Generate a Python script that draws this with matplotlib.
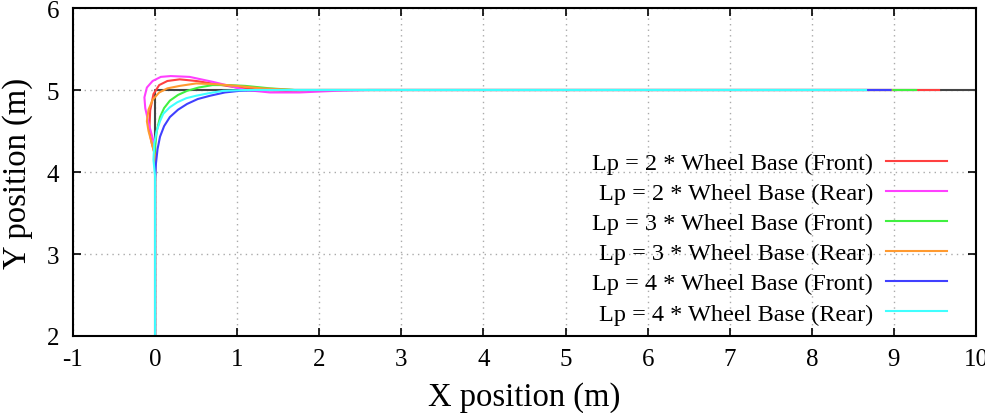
import matplotlib
matplotlib.use('Agg')
from matplotlib import pyplot as plt

# reference path (black)
ref_x = [0, 0, 10]
ref_y = [2, 5, 5]

# Lp = 2 * Wheel Base
front2_x = [0, 0, -0.04, -0.07, -0.06, -0.02, 0.05, 0.15, 0.3, 0.5, 0.75, 1.0, 1.3, 1.6, 2.0, 9.55]
front2_y = [2, 4.2, 4.35, 4.5, 4.75, 4.95, 5.06, 5.11, 5.13, 5.11, 5.07, 5.03, 5.0, 4.99, 5.0, 5.0]
rear2_x = [0, 0, -0.04, -0.08, -0.12, -0.13, -0.1, -0.03, 0.07, 0.19, 0.42, 0.7, 0.91, 1.1, 1.4, 1.76, 2.2, 2.6, 9.25]
rear2_y = [2, 4.3, 4.45, 4.6, 4.78, 4.91, 5.03, 5.11, 5.16, 5.17, 5.16, 5.1, 5.05, 5.0, 4.97, 4.97, 4.99, 5.0, 5.0]

# Lp = 3 * Wheel Base
front3_x = [0, 0, 0.02, 0.06, 0.11, 0.18, 0.28, 0.39, 0.53, 0.7, 0.9, 1.1, 1.4, 1.7, 9.27]
front3_y = [2, 4.3, 4.5, 4.67, 4.78, 4.87, 4.94, 4.99, 5.03, 5.06, 5.06, 5.05, 5.02, 5.0, 5.0]
rear3_x = [0, 0, -0.04, -0.08, -0.1, -0.08, -0.03, 0.05, 0.15, 0.3, 0.5, 0.75, 1.0, 1.3, 1.7, 8.97]
rear3_y = [2, 4.2, 4.35, 4.5, 4.62, 4.76, 4.88, 4.97, 5.02, 5.05, 5.08, 5.07, 5.05, 5.02, 5.0, 5.0]

# Lp = 4 * Wheel Base
front4_x = [0, 0, 0.01, 0.03, 0.06, 0.11, 0.18, 0.28, 0.39, 0.52, 0.67, 0.85, 1.03, 1.3, 8.96]
front4_y = [2, 3.9, 4.1, 4.28, 4.43, 4.56, 4.67, 4.76, 4.83, 4.89, 4.93, 4.97, 4.99, 5.0, 5.0]
rear4_x = [0, 0, -0.02, -0.01, 0.02, 0.06, 0.1, 0.18, 0.27, 0.38, 0.5, 0.65, 0.83, 1.1, 8.66]
rear4_y = [2, 3.95, 4.15, 4.35, 4.5, 4.62, 4.71, 4.79, 4.85, 4.9, 4.93, 4.96, 4.99, 5.0, 5.0]

labels = ['Lp = 2 * Wheel Base (Front)', 'Lp = 2 * Wheel Base (Rear)',
          'Lp = 3 * Wheel Base (Front)', 'Lp = 3 * Wheel Base (Rear)',
          'Lp = 4 * Wheel Base (Front)', 'Lp = 4 * Wheel Base (Rear)']
colors = ['#ff4040', '#ff40ff', '#40f040', '#ff9a30', '#4040ff', '#40ffff']

plt.rcParams['font.family'] = ['Liberation Serif', 'DejaVu Serif']
plt.rcParams['axes.unicode_minus'] = False

fig = plt.figure(figsize=(9.85, 4.14), dpi=100)
ax = fig.add_axes([73 / 985, 77 / 414, 903 / 985, 328 / 414])

ax.plot(ref_x, ref_y, color='#444444', lw=1.5)
series = [(front2_x, front2_y), (rear2_x, rear2_y), (front3_x, front3_y),
          (rear3_x, rear3_y), (front4_x, front4_y), (rear4_x, rear4_y)]
for (sx, sy), c, lab in zip(series, colors, labels):
    ax.plot(sx, sy, color=c, lw=1.5, label=lab)

ax.set_xlim(-1, 10)
ax.set_ylim(2, 6)
ax.set_xticks(range(-1, 11))
ax.set_yticks(range(2, 7))
ax.grid(True, color='#aaaaaa', linestyle=(0, (1, 3)), lw=1)
ax.tick_params(direction='in', length=6, width=1.2, top=True, right=True, labelsize=18)
ax.tick_params(axis='y', pad=10)
ax.tick_params(axis='x', pad=9)
for s in ax.spines.values():
    s.set_linewidth(1.5)

ax.set_xlabel('X position (m)', fontsize=23.5, labelpad=8)
ax.set_ylabel('Y position (m)', fontsize=23.5, labelpad=10)

leg = ax.legend(loc='lower right', bbox_to_anchor=(0.968, 0.035), frameon=False,
                markerfirst=False, fontsize=17.5, handlelength=2.5, handletextpad=0.55,
                labelspacing=0.33, borderpad=0, borderaxespad=0)
for col in leg._legend_handle_box.get_children():
    col.align = 'right'

fig.savefig('out.png', dpi=100)
